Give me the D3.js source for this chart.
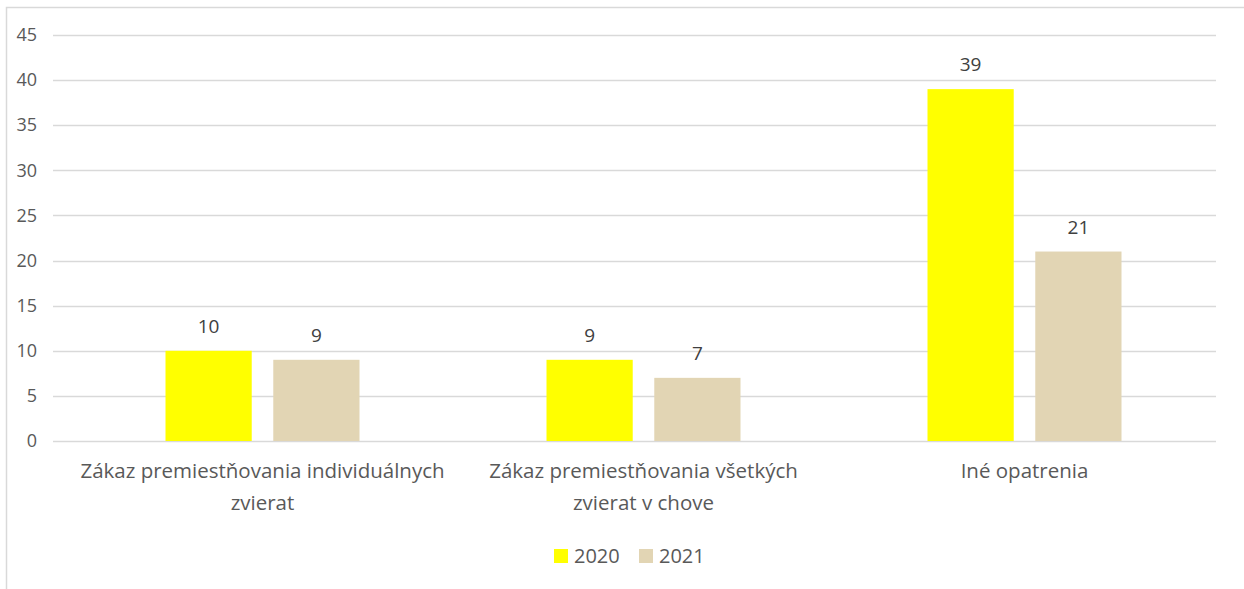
<!DOCTYPE html>
<html>
<head>
<meta charset="utf-8">
<script src="https://cdn.jsdelivr.net/npm/d3@7"></script>
<style>
  body { margin: 0; background: #fff; }
  svg { display: block; font-family: "Open Sans", "Noto Sans", sans-serif; }
</style>
</head>
<body>
<svg id="chart" width="1244" height="589"></svg>
<script>
// data
const categories = [
  ["Zákaz premiestňovania individuálnych", "zvierat"],
  ["Zákaz premiestňovania všetkých", "zvierat v chove"],
  ["Iné opatrenia"]
]
const years = ["2020", "2021"]
const values2020 = [10, 9, 39]
const values2021 = [9, 7, 21]
const yTicks = [0, 5, 10, 15, 20, 25, 30, 35, 40, 45]

const colors = new Map().set("2020", "#FFFF00").set("2021", "#E2D5B4")
const textColor = "#595959"

const width = 1244, height = 589
const margin = {top: 35, left: 72, right: 29, bottom: 148}

const svg = d3.select("#chart")

// chart frame
svg.append("rect")
  .attr("x", 6.5).attr("y", 7.5)
  .attr("width", width + 10).attr("height", height + 10)
  .attr("fill", "none").attr("stroke", "#d9d9d9").attr("stroke-width", 1.5)

var data = categories.map((c, i) => ({name: c, "2020": values2020[i], "2021": values2021[i]}))

var x = d3.scaleBand()
  .domain(d3.range(data.length))
  .range([margin.left, width - margin.right])

var x1 = d3.scaleBand()
  .domain(years)
  .range([x.bandwidth() / 2 - 97, x.bandwidth() / 2 + 97])
  .paddingInner(0.2)

var y = d3.scaleLinear()
  .domain([0, 45])
  .range([height - margin.bottom, margin.top])

// gridlines
svg.append("g")
  .selectAll("line")
  .data(yTicks)
  .join("line")
    .attr("x1", 53).attr("x2", 1216)
    .attr("y1", d => Math.round(y(d)) + 0.5)
    .attr("y2", d => Math.round(y(d)) + 0.5)
    .attr("stroke", "#d9d9d9").attr("stroke-width", 1.5)

// y axis labels
const yAxis = g => g
  .attr("transform", `translate(${margin.left - 35},0)`)
  .call(d3.axisLeft(y).tickValues(yTicks).tickSize(0).tickPadding(0))
  .call(g => g.select(".domain").remove())
  .call(g => g.selectAll("text")
    .attr("fill", textColor)
    .style("font-size", "18px")
    .style("font-family", "'Open Sans', sans-serif"))

svg.append("g").call(yAxis)

// bars
const groups = svg.append("g")
  .selectAll("g")
  .data(data)
  .join("g")
    .attr("transform", (d, i) => `translate(${x(i)},0)`)

groups.selectAll("rect")
  .data(d => years.map(k => ({key: k, value: d[k]})))
  .join("rect")
    .attr("x", d => x1(d.key))
    .attr("y", d => y(d.value))
    .attr("width", x1.bandwidth())
    .attr("height", d => y(0) - y(d.value))
    .attr("fill", d => colors.get(d.key))

groups.selectAll("text.val")
  .data(d => years.map(k => ({key: k, value: d[k]})))
  .join("text")
    .attr("class", "val")
    .attr("x", d => x1(d.key) + x1.bandwidth() / 2)
    .attr("y", d => y(d.value) - 18)
    .attr("text-anchor", "middle")
    .attr("fill", "#404040")
    .style("font-size", "19px")
    .text(d => d.value)

// category labels
groups.append("text")
  .attr("text-anchor", "middle")
  .attr("fill", textColor)
  .style("font-size", "20.5px")
  .selectAll("tspan")
  .data(d => d.name)
  .join("tspan")
    .attr("x", x.bandwidth() / 2)
    .attr("y", (d, i) => y(0) + 37 + i * 32)
    .text(d => d)

// legend
const legend = svg.append("g")
  .attr("transform", "translate(554,549)")
  .selectAll("g")
  .data(years)
  .join("g")
    .attr("transform", (d, i) => `translate(${i * 85},0)`)

legend.append("rect")
  .attr("width", 14).attr("height", 14)
  .attr("fill", d => colors.get(d))

legend.append("text")
  .attr("x", 20).attr("y", 14)
  .attr("fill", textColor)
  .style("font-size", "20px")
  .text(d => d)
</script>
</body>
</html>
